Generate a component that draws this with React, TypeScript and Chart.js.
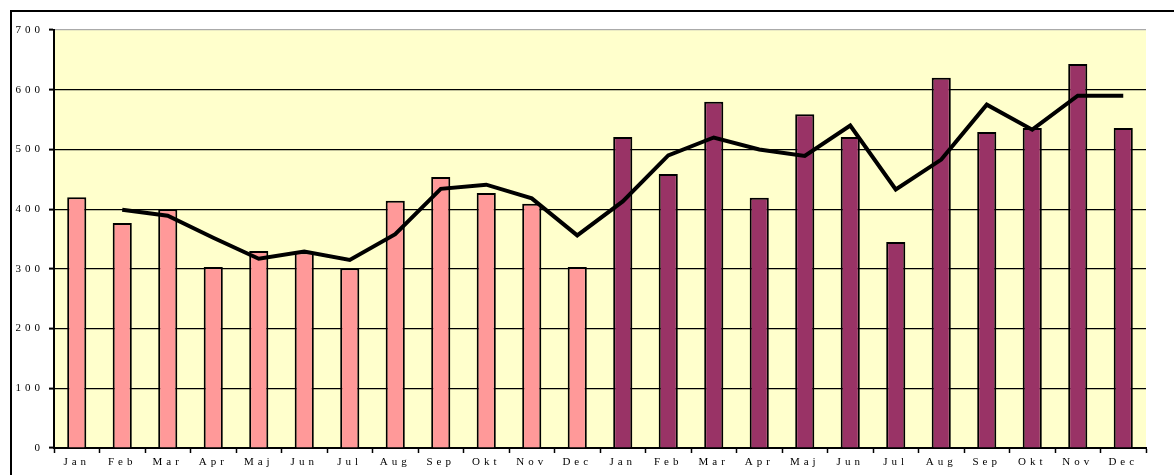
import React, { useEffect, useRef } from "react";
import { Chart, registerables } from "chart.js";

Chart.register(...registerables);

const months = ["Jan", "Feb", "Mar", "Apr", "Maj", "Jun", "Jul", "Aug", "Sep", "Okt", "Nov", "Dec"];
const categories = [...months, ...months];

const year1Values = [420, 377, 400, 303, 330, 328, 301, 414, 454, 427, 409, 303];
const year2Values = [521, 459, 580, 419, 559, 521, 345, 620, 529, 536, 643, 536];
const barValues = [...year1Values, ...year2Values];

const trendValues = [null, 399, 389, 352, 317, 329, 315, 358, 434, 441, 418, 356,
  413, 490, 520, 500, 489, 540, 433, 483, 575, 533, 590, 590];

const yTicks = [0, 100, 200, 300, 400, 500, 600, 700];

const YEAR1_COLOR = "#FF9999";
const YEAR2_COLOR = "#993366";

const framePlugin = {
  id: "framePlugin",
  beforeLayout(chart: any) {
    (chart.ctx as any).letterSpacing = "4px";
  },
  beforeDraw(chart: any) {
    const { ctx, chartArea } = chart;
    ctx.save();
    ctx.fillStyle = "#FFFFFF";
    ctx.fillRect(0, 0, chart.width, chart.height);
    ctx.fillStyle = "#FFFFCC";
    ctx.fillRect(chartArea.left, chartArea.top, chartArea.right - chartArea.left, chartArea.bottom - chartArea.top);
    ctx.fillStyle = "#000000";
    ctx.fillRect(10, 10, chart.width - 10, 2);
    ctx.fillRect(10, 10, 2, chart.height - 10);
    ctx.restore();
    (ctx as any).letterSpacing = "4px";
  },
};

export default function App() {
  const ref = useRef<HTMLCanvasElement>(null);
  useEffect(() => {
    if (!ref.current) return;
    const chart = new Chart(ref.current, {
      type: "bar",
      data: {
        labels: categories,
        datasets: [
          {
            type: "line",
            data: trendValues as any,
            borderColor: "#000000",
            borderWidth: 4,
            pointRadius: 0,
            tension: 0,
            fill: false,
            order: 0,
          } as any,
          {
            type: "bar",
            data: barValues,
            backgroundColor: barValues.map((_, i) => (i < 12 ? YEAR1_COLOR : YEAR2_COLOR)),
            borderColor: "#000000",
            borderWidth: 2,
            barPercentage: 0.42,
            categoryPercentage: 1,
            order: 1,
          },
        ],
      },
      options: {
        responsive: false,
        animation: false,
        events: [],
        layout: { padding: { left: 0, top: 30, right: 28, bottom: 0 } },
        plugins: { legend: { display: false }, tooltip: { enabled: false } },
        scales: {
          x: {
            offset: true,
            grid: {
              offset: true,
              drawOnChartArea: false,
              drawTicks: true,
              tickLength: 5,
              tickColor: "#000000",
              tickWidth: 1.5,
            },
            border: { color: "#000000", width: 2 },
            ticks: {
              color: "#000000",
              font: { family: "'Liberation Serif', 'Times New Roman', serif", size: 11 },
              padding: 3,
              maxRotation: 0,
              autoSkip: false,
            },
            afterFit(scale: any) {
              scale.height = 27;
            },
          },
          y: {
            min: 0,
            max: 700,
            afterBuildTicks(scale: any) {
              scale.ticks = yTicks.map((v) => ({ value: v }));
            },
            grid: {
              color: (c: any) => (c.tick && c.tick.value === 700 ? "#AAAAAA" : "#000000"),
              lineWidth: 1.2,
              tickLength: 5,
              tickColor: "#000000",
              tickWidth: 2,
            },
            border: { color: "#000000", width: 2 },
            ticks: {
              color: "#000000",
              font: { family: "'Liberation Serif', 'Times New Roman', serif", size: 11 },
              padding: 5,
            },
            afterFit(scale: any) {
              scale.width = 54;
            },
          },
        },
      },
      plugins: [framePlugin],
    } as any);
    return () => chart.destroy();
  }, []);
  return (
    <div style={{ position: "fixed", left: 0, top: 0, width: 1174, height: 475, background: "#fff" }}>
      <canvas ref={ref} width={1174} height={475} style={{ display: "block" }} />
    </div>
  );
}
